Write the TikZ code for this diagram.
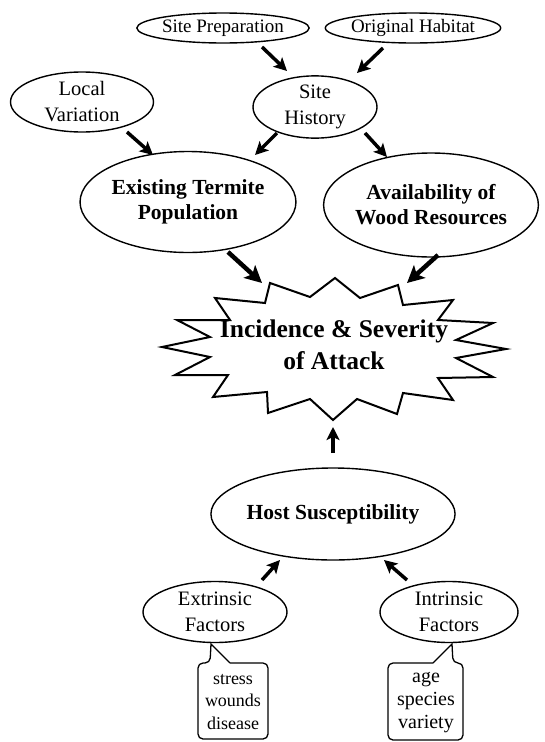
\documentclass[tikz,border=0pt]{standalone}
\usepackage{fontspec}
\setmainfont{Liberation Serif}
\usetikzlibrary{shapes.geometric,arrows.meta,calc}
\begin{document}
\begin{tikzpicture}[x=1pt,y=-1pt,
  ell/.style={ellipse,draw,line width=1.4pt,inner sep=0pt,align=center},
  small/.style={font=\fontsize{19}{22}\selectfont},
  reg/.style={font=\fontsize{20.5}{26}\selectfont},
  bold/.style={font=\bfseries\fontsize{21.5}{25}\selectfont},
  arr/.style={line width=3.5pt,-{Stealth[length=13pt,width=13pt,inset=3pt]}},
  bigarr/.style={line width=4.5pt,-{Stealth[length=17pt,width=17pt,inset=4pt]}},
  callout/.style={draw,line width=1.3pt,rounded corners=5pt},
  calltext/.style={align=center,inner sep=0pt}
]
\useasboundingbox (0,0) rectangle (545,742);

% nodes
\node[ell,small,minimum width=140pt,minimum height=30pt] (sp) at (223,28) {Site Preparation};
\node[ell,small,minimum width=158pt,minimum height=30pt] (oh) at (413,28) {Original Habitat};
\node[ell,reg,minimum width=143pt,minimum height=60pt] (lv) at (82,102) {Local\\Variation};
\node[ell,reg,minimum width=124pt,minimum height=59pt] (sh) at (315,107) {Site\\History};
\node[ell,bold,minimum width=150pt,minimum height=101pt] (ex) at (188,202) {Existing Termite\\Population};
\node[ell,bold,minimum width=182pt,minimum height=104pt] (av) at (431,205) {Availability of\\Wood Resources};
\node[ell,bold,minimum width=190pt,minimum height=92pt] (hs) at (333,514) {Host Susceptibility};
\node[ell,reg,minimum width=144pt,minimum height=61pt] (ef) at (215,612) {Extrinsic\\Factors};
\node[ell,reg,minimum width=138pt,minimum height=61pt] (inf) at (449,612) {Intrinsic\\Factors};

% starburst
\draw[line width=2pt,line join=miter]
  (335,278) -- (360,298) -- (398,285) -- (403,305) -- (453,300) -- (438,320) --
  (493,323) -- (456,340) -- (506,349) -- (456,358) -- (493,377) -- (438,378) --
  (453,400) -- (403,393) -- (397,414) -- (357,399) -- (333,420) -- (310,399) --
  (268,413) -- (267,392) -- (213,397) -- (228,375) -- (175,375) -- (210,357) --
  (162,347) -- (210,337) -- (177,320) -- (230,320) -- (215,298) -- (265,303) --
  (270,283) -- (310,297) -- cycle;
\node[align=center,inner sep=0pt,font=\bfseries\fontsize{25.5}{32}\selectfont] (st) at (334,345) {Incidence \& Severity\\of Attack};

% callouts
\node[calltext,font=\fontsize{18}{22.5}\selectfont] (cs) at (233,702) {stress\\wounds\\disease};
\node[calltext,font=\fontsize{20}{23}\selectfont] (ca) at (426,703) {age\\species\\variety};
\draw[callout] (230,663) -- (268,663) -- (268,739) -- (198,739) -- (198,663) -- (210,663) [sharp corners] -- (211,644) -- (230,663);
\draw[callout] (433,663) -- (388,663) -- (388,740) -- (463,740) -- (463,663) -- (453,663) [sharp corners] -- (452,644) -- (433,663);

% arrows
\draw[arr] ($(sp)+(39,19)$) -- ($(sh)+(-28,-36)$);
\draw[arr] ($(oh)+(-30,20)$) -- ($(sh)+(42,-34)$);
\draw[arr] ($(lv)+(45,30)$) -- ($(ex)+(-35,-47)$);
\draw[arr] ($(sh)+(-38,26)$) -- ($(ex)+(67,-47)$);
\draw[arr] ($(sh)+(50,26)$) -- ($(av)+(-44,-48)$);
\draw[bigarr] ($(ex)+(40,50)$) -- ($(st)+(-72,-62)$);
\draw[bigarr] ($(av)+(7,50)$) -- ($(st)+(73,-62)$);
\draw[arr] ($(hs)+(0,-61)$) -- ($(st)+(-1,82)$);
\draw[arr] ($(ef)+(47,-32)$) -- ($(hs)+(-53,46)$);
\draw[arr] ($(inf)+(-42,-32)$) -- ($(hs)+(51,46)$);
\end{tikzpicture}
\end{document}
